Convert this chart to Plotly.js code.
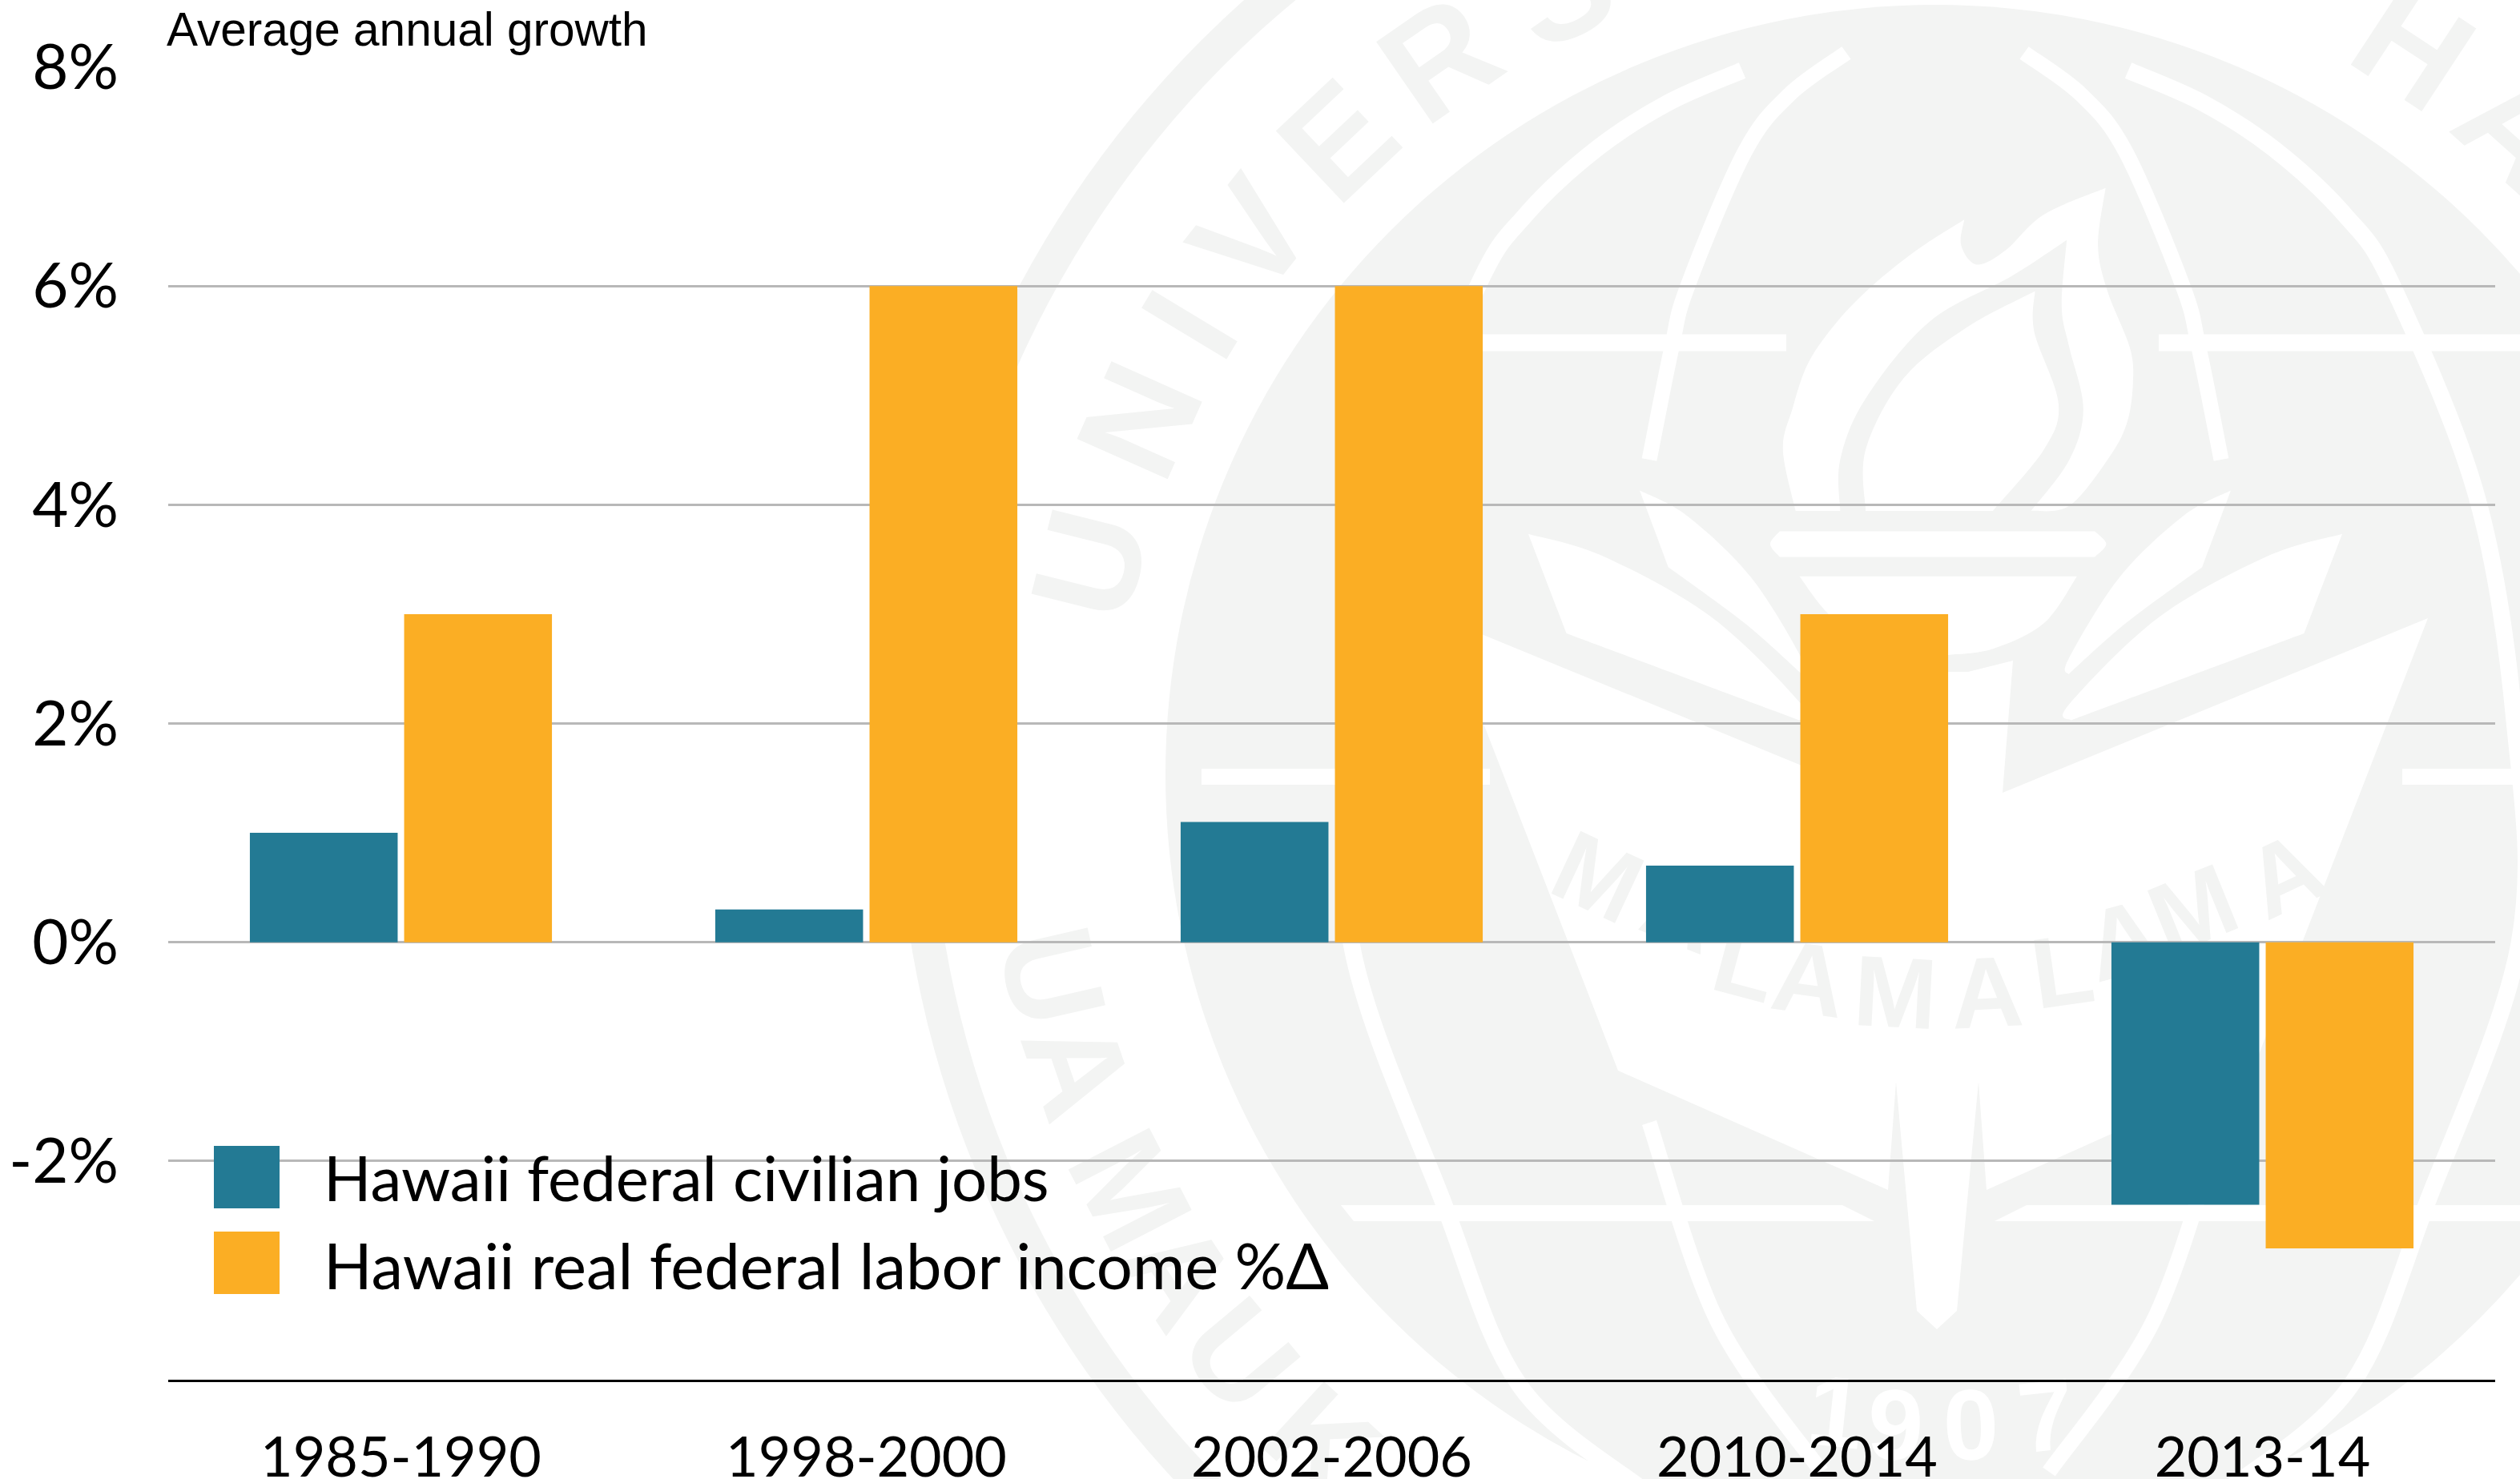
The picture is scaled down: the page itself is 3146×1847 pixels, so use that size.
<!DOCTYPE html>
<html>
<head>
<meta charset="utf-8">
<script src="https://cdn.plot.ly/plotly-3.0.1.min.js"></script>
<style>html,body{margin:0;padding:0;background:#fff}#chart{width:3146px;height:1847px}</style>
</head>
<body>
<div id="chart"></div>
<script>
// ---- chart data ----
const categories = ['1985-1990', '1998-2000', '2002-2006', '2010-2014', '2013-14'];
const federalJobs = [1.0, 0.3, 1.1, 0.7, -2.4];
const laborIncome = [3.0, 6.0, 6.0, 3.0, -2.8];
const yTickValues = [-2, 0, 2, 4, 6, 8];
const yTickLabels = ['-2%', '0%', '2%', '4%', '6%', '8%'];
const seriesNames = ['Hawaii federal civilian jobs', 'Hawaii real federal labor income %\u0394'];
const unitNote = 'Average annual growth';

// ---- page geometry ----
const W = 3146, H = 1847, L = 210, R = 3115, T = 84, B = 1723;
const px = x => (x - L) / (R - L);
const py = y => 1 - (y - T) / (B - T);
const TEAL = '#237A94', GOLD = '#FBAE24', SEAL = '#F3F4F3', WHITE = '#FFFFFF';
const FONT = 'Lato, "Noto Sans", sans-serif';
const CX = 2416, CY = 967;

// ---- faint university seal behind the chart ----
const shapes = [];
const circle = (r, c) => shapes.push({type:'circle', xref:'paper', yref:'paper', layer:'below',
  x0:px(CX-r), x1:px(CX+r), y0:py(CY+r), y1:py(CY-r), fillcolor:c, line:{width:0}});
const polygon = pts => {
  shapes.push({type:'path', xref:'paper', yref:'paper', layer:'below', fillcolor:WHITE, line:{width:0},
    path:'M' + pts.map(p => px(p[0]) + ',' + py(p[1])).join('L') + 'Z'});
};
const spline = pts => {
  let d = '';
  for (let i = 0; i < pts.length - 1; i++) {
    const a = pts[Math.max(i-1,0)], b = pts[i], c = pts[i+1], e = pts[Math.min(i+2,pts.length-1)];
    const c1 = [b[0]+(c[0]-a[0])/6, b[1]+(c[1]-a[1])/6], c2 = [c[0]-(e[0]-b[0])/6, c[1]-(e[1]-b[1])/6];
    d += 'C' + px(c1[0])+','+py(c1[1])+' '+px(c2[0])+','+py(c2[1])+' '+px(c[0])+','+py(c[1]);
  }
  return d;
};
const curve = (pts, w) => shapes.push({type:'path', xref:'paper', yref:'paper', layer:'below', fillcolor:'rgba(0,0,0,0)',
  line:{color:WHITE, width:w}, path:'M' + px(pts[0][0]) + ',' + py(pts[0][1]) + spline(pts)});
// closed white figure made of smooth runs that meet at sharp corners
const blob = runs => shapes.push({type:'path', xref:'paper', yref:'paper', layer:'below', fillcolor:WHITE, line:{width:0},
  path:'M' + px(runs[0][0][0]) + ',' + py(runs[0][0][1]) + runs.map(spline).join('') + 'Z'});
const mirror = pts => pts.map(p => [2*CX - p[0], p[1]]);
const band = (x0, x1, y, w) => polygon([[x0,y-w/2],[x1,y-w/2],[x1,y+w/2],[x0,y+w/2]]);
const z5 = pts => pts.map(p => [1900 + 0.7946*p[0], 0.638*p[1]]);

circle(1296, SEAL); circle(1254, WHITE); circle(961, SEAL);

// latitude bands
band(1700, 2230, 428, 21); band(2695, 3146, 428, 21);
band(1500, 1860, 970, 20); band(2999, 3146, 970, 20);
polygon([[1674,1505],[2300,1505],[2340,1525],[1690,1525]]);
polygon([[2530,1505],[3146,1505],[3146,1525],[2490,1525]]);

// meridians
const outerM = [[2175,88],[2083,128],[1993,186],[1905,268],[1845,357],[1740,620],[1693,900],[1687,1178],[1802,1502],[1897,1730],[2050,1860]];
const innerTop = [[2305,66],[2234,118],[2178,190],[2107,357],[2087,434],[2059,574]];
const innerLow = [[2059,1402],[2144,1650],[2274,1838]];
[outerM, mirror(outerM)].forEach(p => curve(p, 21));
[innerTop, mirror(innerTop), innerLow, mirror(innerLow)].forEach(p => curve(p, 19));

// flame, cup and leaves
blob([
  z5([[430,1000],[410,880],[425,800],[450,710],[495,630],[550,560],[620,490],[695,430]]),
  z5([[695,430],[690,480],[715,518],[760,490],[820,420],[917,368]]),
  z5([[917,368],[905,480],[920,570],[955,680],[960,750],[950,830],[920,900],[860,990],[800,1000]]),
  z5([[800,1000],[860,900],[882,800],[860,680],[848,600],[856,470]]),
  z5([[856,470],[770,540],[640,630],[540,780],[500,900],[500,1000]])
]);
blob([
  z5([[806,570],[805,650],[843,790],[820,880],[740,1000]]),
  z5([[740,1000],[540,1000]]),
  z5([[540,1000],[540,880],[600,740],[700,640],[806,570]])
]);
blob([z5([[405,1040],[900,1040]]), z5([[900,1040],[918,1065],[900,1090]]), z5([[900,1090],[405,1090]]), z5([[405,1090],[390,1065],[405,1040]])]);
blob([z5([[436,1128],[872,1128]]), z5([[872,1128],[820,1220],[740,1270],[670,1282]]), z5([[670,1282],[550,1282]]), z5([[550,1282],[480,1200],[436,1128]])]);
const leafA = [z5([[185,960],[260,1010],[360,1130],[440,1290],[440,1320]]), z5([[440,1320],[350,1220],[230,1110]]), z5([[230,1110],[185,960]])];
const leafB = [z5([[10,1045],[130,1090],[300,1210],[440,1380],[436,1410]]), z5([[436,1410],[70,1240]]), z5([[70,1240],[10,1045]])];
blob(leafA); blob(leafB);
blob(leafA.map(r => mirror(r))); blob(leafB.map(r => mirror(r)));

// lower shield with torch handle
polygon([[1801,772],[2332,990],[2319,825],[2379,839],[2457,839],[2513,825],[2500,990],[3031,772],[2812,1337],[2480,1486],[2470,1351],[2443,1637],[2418,1660],[2393,1637],[2367,1351],[2357,1486],[2020,1337]]);

// seal lettering: real text, drawn beneath the grid and bars
const label = (ch, x, y, rot, size, color) => shapes.push({type:'rect', xref:'paper', yref:'paper', layer:'below',
  x0:px(x-120), x1:px(x+120), y0:py(y+120), y1:py(y-120), fillcolor:'rgba(0,0,0,0)', line:{width:0},
  label:{text:ch, textangle:rot, textposition:'middle center',
         font:{family:'"Liberation Sans", sans-serif', size:size, color:color, weight:'bold'}}});
const sealTop = [['U',-76],['N',-66],['I',-58.9],['V',-51.8],['E',-43.3],['R',-34.7],['S',-25.5],['H',33.3],['A',42]];
sealTop.forEach(([c,a]) => {
  const t = a*Math.PI/180;
  label(c, CX + 1105*Math.sin(t), CY - 1105*Math.cos(t), a, 180, SEAL);
});
const sealLow = [['U',12.9],['A',18.9],['M',27.3],['A',33.5],['U',39.9],['K',47.4]];
sealLow.forEach(([c,a]) => {
  const t = a*Math.PI/180;
  label(c, CX - 1115*Math.cos(t), CY + 1115*Math.sin(t), 90-a, 165, SEAL);
});
const banner = [['M',2000,1084,25],['A',2105,1125,22],['L',2183,1190,15],['A',2260,1210,8],['M',2367,1227,3],
                ['A',2480,1227,-3],['L',2573,1200,-8],['A',2647,1162,-15],['M',2733,1124,-22],['A',2847,1081,-25]];
banner.forEach(([c,x,y,r]) => label(c, x, y, r, 125, SEAL));
const year = [['1',2293,1751,6],['9',2367,1767,2],['0',2460,1767,-2],['7',2553,1756,-6]];
year.forEach(([c,x,y,r]) => label(c, x, y, r, 125, WHITE));

// legend swatches
[[1431,1509,TEAL],[1538,1616,GOLD]].forEach(([a,b,c]) => shapes.push({type:'rect', xref:'paper', yref:'paper', layer:'above',
  x0:px(267), x1:px(349), y0:py(b), y1:py(a), fillcolor:c, line:{width:0}}));

const note = (text, x, y, size, family) => ({xref:'paper', yref:'paper', x:px(x), y:py(y), xanchor:'left', yanchor:'middle',
  showarrow:false, align:'left', text:text, font:{family:family, size:size, color:'#000'}});

const traces = [
  {type:'bar', name:seriesNames[0], x:categories, y:federalJobs, marker:{color:TEAL, line:{width:0}}},
  {type:'bar', name:seriesNames[1], x:categories, y:laborIncome, marker:{color:GOLD, line:{width:0}}}
];
const layout = {
  width:W, height:H, paper_bgcolor:WHITE, plot_bgcolor:'rgba(0,0,0,0)', showlegend:false,
  margin:{l:L, r:W-R, t:T, b:H-B, pad:0},
  barmode:'group', bargap:0.337, bargroupgap:0.042,
  font:{family:FONT, color:'#000'},
  xaxis:{type:'category', showgrid:false, zeroline:false, showline:true, linecolor:'#000', linewidth:3,
         ticks:'', ticklabelstandoff:34, tickfont:{family:FONT, size:70, color:'#000'}, automargin:false},
  yaxis:{range:[-4,8], tickmode:'array', tickvals:yTickValues, ticktext:yTickLabels, showgrid:true, gridcolor:'#B8B8B8', gridwidth:3,
         zeroline:false, showline:false, ticks:'', ticklabelstandoff:61, tickfont:{family:FONT, size:78, color:'#000'}, automargin:false},
  shapes:shapes,
  annotations:[
    note(unitNote, 206, 36, 58.5, '"Liberation Sans", Arial, sans-serif'),
    note(seriesNames[0], 402, 1470, 78, FONT),
    note(seriesNames[1], 402, 1579, 79.5, FONT)
  ]
};
Plotly.newPlot('chart', traces, layout, {displayModeBar:false, staticPlot:true});
</script>
</body>
</html>
